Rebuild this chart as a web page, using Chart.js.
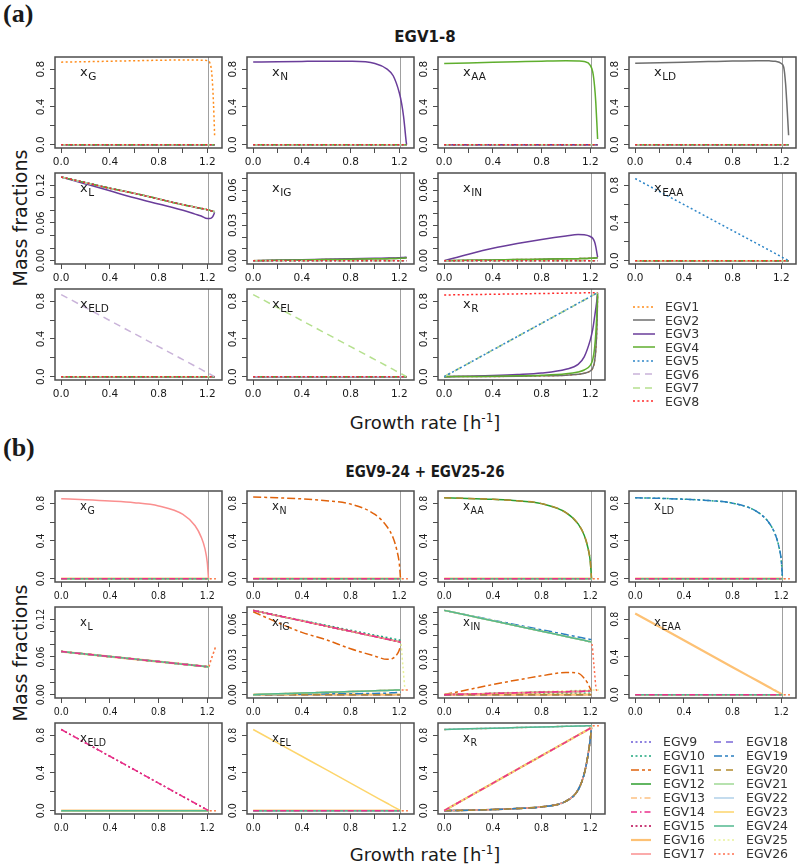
<!DOCTYPE html>
<html>
<head>
<meta charset="utf-8">
<title>EGV mass fractions</title>
<script src="https://cdn.jsdelivr.net/npm/chart.js@4.4.1/dist/chart.umd.min.js"></script>
<style>
  body { margin: 0; background: #fff; }
  #page { position: relative; width: 800px; height: 866px; overflow: hidden;
          font-family: "DejaVu Sans", sans-serif; color: #1a1a1a; }
  .abs { position: absolute; white-space: nowrap; }
  .tag { font-family: "Liberation Serif", "DejaVu Serif", serif; font-weight: bold; font-size: 26px; line-height: 28px; }
  .title { left: 225px; width: 400px; text-align: center; font-weight: bold; font-size: 15px; line-height: 20px; }
  .ylab { left: -80px; width: 200px; height: 24px; line-height: 24px; text-align: center; font-size: 19px; transform: rotate(-90deg); }
  .xlab { left: 225px; width: 400px; text-align: center; font-size: 18px; line-height: 24px; }
  .xlab sup { font-size: 12px; }
  .leg { font-size: 12.5px; line-height: 16px; color: #333; }
</style>
</head>
<body>
<div id="page">
  <div class="abs tag" style="left:3px;top:0px">(a)</div>
  <div class="abs title" style="top:27px">EGV1-8</div>
  <div class="abs ylab" style="top:206px">Mass fractions</div>
  <div class="abs xlab" style="top:406px">Growth rate [h<sup>-1</sup>]</div>

  <div class="abs tag" style="left:3px;top:434px">(b)</div>
  <div class="abs title" style="top:462px;font-family:'DejaVu Sans Condensed','Liberation Sans Narrow','DejaVu Sans',sans-serif">EGV9-24 + EGV25-26</div>
  <div class="abs ylab" style="top:641px">Mass fractions</div>
  <div class="abs xlab" style="top:838px">Growth rate [h<sup>-1</sup>]</div>
</div>
<script>
// growth-rate grids
const muA = [0, 0.2, 0.4, 0.6, 0.8, 1.0, 1.1, 1.15, 1.2, 1.22, 1.235, 1.245, 1.255, 1.26];
const muB = [0, 0.2, 0.4, 0.6, 0.8, 1.0, 1.1, 1.15, 1.18, 1.2, 1.21, 1.23, 1.25, 1.27];
const muMax = 1.21;

// axis ticks
const xLim = [0, 1.27];
const xTicks = [0, 0.2, 0.4, 0.6, 0.8, 1.0, 1.2];
const xTickLabels = [0, 0.4, 0.8, 1.2];
const yBigLim = [0, 0.893];
const yBigTicks = [0, 0.2, 0.4, 0.6, 0.8];
const yBigLabels = [0, 0.4, 0.8];
const yLLim = [0, 0.134];
const yLTicks = [0, 0.02, 0.04, 0.06, 0.08, 0.1, 0.12];
const yLLabels = [0, 0.06, 0.12];
const yILim = [0, 0.0717];
const yITicks = [0, 0.01, 0.02, 0.03, 0.04, 0.05, 0.06, 0.07];
const yILabels = [0, 0.03, 0.06];

const egvA = ['EGV1', 'EGV2', 'EGV3', 'EGV4', 'EGV5', 'EGV6', 'EGV7', 'EGV8'];
const egvB = ['EGV9', 'EGV10', 'EGV11', 'EGV12', 'EGV13', 'EGV14', 'EGV15', 'EGV16', 'EGV17',
              'EGV18', 'EGV19', 'EGV20', 'EGV21', 'EGV22', 'EGV23', 'EGV24', 'EGV25', 'EGV26'];
const names = ['G', 'N', 'AA', 'LD', 'L', 'IG', 'IN', 'EAA', 'ELD', 'EL', 'R'];

// ---- panel (a) values, on muA ----
const ZA = [0, 0, 0, 0, 0, 0, 0, 0, 0, 0, 0, 0, 0, 0];
const aG1 = [0.874, 0.879, 0.884, 0.889, 0.894, 0.897, 0.897, 0.895, 0.89, 0.87, 0.78, 0.6, 0.3, 0.1];
const aN3 = [0.875, 0.879, 0.882, 0.884, 0.883, 0.86, 0.8, 0.73, 0.55, 0.43, 0.3, 0.18, 0.05, 0.0];
const aAA4 = [0.86, 0.866, 0.872, 0.878, 0.884, 0.888, 0.886, 0.88, 0.84, 0.77, 0.62, 0.45, 0.2, 0.06];
const aLD2 = [0.862, 0.868, 0.874, 0.88, 0.886, 0.89, 0.888, 0.883, 0.86, 0.82, 0.65, 0.45, 0.22, 0.1];
const aL3 = [0.133, 0.122, 0.111, 0.1, 0.09, 0.08, 0.074, 0.071, 0.067, 0.067, 0.068, 0.07, 0.074, 0.077];
const aL = [0.133, 0.124, 0.115, 0.107, 0.098, 0.089, 0.085, 0.083, 0.081, 0.08, 0.079, 0.0785, 0.078, 0.0777];
const aIG3 = [0, 0.0004, 0.0008, 0.0012, 0.0016, 0.002, 0.0022, 0.0023, 0.0025, 0.0026, 0.0027, 0.0028, 0.0029, 0.003];
const aLow = [0, 0.0003, 0.0006, 0.0009, 0.0012, 0.0015, 0.0017, 0.0018, 0.002, 0.0021, 0.0022, 0.0023, 0.0024, 0.0025];
const aIN3 = [0, 0.0055, 0.0105, 0.0145, 0.018, 0.021, 0.0222, 0.022, 0.0205, 0.019, 0.016, 0.012, 0.006, 0.003];
const aE = [0.87, 0.732, 0.594, 0.456, 0.318, 0.18, 0.111, 0.076, 0.041, 0.028, 0.017, 0.01, 0.003, 0.0];
const aR8 = [0.865, 0.869, 0.873, 0.877, 0.881, 0.885, 0.887, 0.888, 0.889, 0.89, 0.89, 0.89, 0.89, 0.89];
const aRdiag = [0, 0.141, 0.283, 0.424, 0.565, 0.706, 0.777, 0.812, 0.848, 0.862, 0.872, 0.879, 0.886, 0.89];
const aR3 = [0, 0.005, 0.012, 0.022, 0.038, 0.078, 0.13, 0.21, 0.39, 0.5, 0.63, 0.72, 0.82, 0.89];
const aR4 = [0, 0.002, 0.004, 0.008, 0.014, 0.03, 0.05, 0.07, 0.12, 0.18, 0.3, 0.45, 0.7, 0.88];
const aR2 = [0, 0.001, 0.002, 0.004, 0.008, 0.015, 0.025, 0.035, 0.06, 0.09, 0.16, 0.28, 0.55, 0.86];

// ---- panel (b) values, on muB (EGV9-24 stop at 1.21) ----
const ZB = [0, 0, 0, 0, 0, 0, 0, 0, 0, 0, 0, null, null, null];
const ZB2 = [0, 0, 0, 0, 0, 0, 0, 0, 0, 0, 0, 0, 0, 0];
const bG17 = [0.846, 0.836, 0.823, 0.805, 0.77, 0.68, 0.56, 0.44, 0.32, 0.17, 0, null, null, null];
const bN11 = [0.865, 0.857, 0.845, 0.825, 0.79, 0.68, 0.55, 0.43, 0.3, 0.16, 0, null, null, null];
const bAA12 = [0.857, 0.85, 0.84, 0.825, 0.795, 0.7, 0.58, 0.46, 0.33, 0.18, 0, null, null, null];
const bLD19 = [0.857, 0.851, 0.842, 0.828, 0.8, 0.71, 0.59, 0.47, 0.34, 0.19, 0, null, null, null];
const bL = [0.0685, 0.0645, 0.0605, 0.0565, 0.0525, 0.0485, 0.0465, 0.0455, 0.0449, 0.0445, 0.0443, null, null, null];
const bL26 = [0.0685, 0.0645, 0.0605, 0.0565, 0.0525, 0.0485, 0.0465, 0.0455, 0.0449, 0.0445, 0.0443, 0.055, 0.066, 0.077];
const bIGtop = [0.0717, 0.0672, 0.0628, 0.0583, 0.0539, 0.0494, 0.0472, 0.0461, 0.0454, 0.045, 0.0448, null, null, null];
const bIG10 = [0.0717, 0.0674, 0.0632, 0.059, 0.0548, 0.0506, 0.0486, 0.0475, 0.0469, 0.0465, 0.0462, null, null, null];
const bIG11 = [0.0705, 0.0614, 0.053, 0.0467, 0.039, 0.0328, 0.03, 0.031, 0.034, 0.038, 0.042, null, null, null];
const bIGlow = [0, 0.0007, 0.0013, 0.002, 0.0026, 0.0033, 0.0036, 0.0038, 0.0039, 0.004, 0.004, null, null, null];
const bIG19 = [0, 0.0002, 0.0004, 0.0006, 0.0008, 0.001, 0.0013, 0.0016, 0.0018, 0.002, 0.002, null, null, null];
const bIG25 = [0.0717, 0.0672, 0.0628, 0.0583, 0.0539, 0.0494, 0.0472, 0.0461, 0.0454, 0.045, 0.0448, 0.024, 0.004, 0.004];
const bIG26 = [0, 0.0007, 0.0013, 0.002, 0.0026, 0.0033, 0.0036, 0.0038, 0.0039, 0.004, 0.004, 0.004, 0.004, 0.004];
const bINtop = [0.0717, 0.0673, 0.0628, 0.0584, 0.054, 0.0495, 0.0473, 0.0462, 0.0455, 0.0451, 0.0449, null, null, null];
const bIN19 = [0.0717, 0.0675, 0.0634, 0.0593, 0.0552, 0.0511, 0.049, 0.048, 0.0474, 0.047, 0.0468, null, null, null];
const bIN11 = [0, 0.0043, 0.0086, 0.0125, 0.016, 0.0189, 0.0183, 0.014, 0.0095, 0.005, 0.003, null, null, null];
const bINlow = [0, 0.0005, 0.001, 0.0015, 0.002, 0.0025, 0.0027, 0.0028, 0.0029, 0.003, 0.003, null, null, null];
const bIN10 = [0, 0.0002, 0.0003, 0.0005, 0.0007, 0.0009, 0.001, 0.0011, 0.0012, 0.0012, 0.0012, null, null, null];
const bIN26 = [0.0717, 0.0673, 0.0628, 0.0584, 0.054, 0.0495, 0.0473, 0.0462, 0.0455, 0.0451, 0.0449, 0.025, 0.004, 0.002];
const bE = [0.86, 0.718, 0.576, 0.434, 0.291, 0.149, 0.078, 0.043, 0.021, 0.007, 0, null, null, null];
const bRtop = [0.86, 0.867, 0.873, 0.88, 0.886, 0.893, 0.896, 0.898, 0.899, 0.9, 0.9, null, null, null];
const bR26 = [0.86, 0.867, 0.873, 0.88, 0.886, 0.893, 0.896, 0.898, 0.899, 0.9, 0.9, 0.9, 0.9, 0.9];
const bRdiag = [0, 0.146, 0.291, 0.437, 0.582, 0.727, 0.8, 0.836, 0.858, 0.873, 0.88, null, null, null];
const bRexp = [0, 0.004, 0.011, 0.022, 0.04, 0.1, 0.22, 0.39, 0.58, 0.76, 0.88, null, null, null];

// which curve goes where (anything not listed is the zero line)
const specA = [
  {1: aG1}, {3: aN3}, {4: aAA4}, {2: aLD2},
  {1: aL, 2: aL, 3: aL3, 4: aL, 5: aL, 6: aL, 7: aL, 8: aL},
  {1: aLow, 2: aLow, 3: aIG3, 4: aLow},
  {1: aLow, 2: aLow, 3: aIN3, 4: aLow},
  {5: aE}, {6: aE}, {7: aE},
  {1: aR2, 2: aR2, 3: aR3, 4: aR4, 5: aRdiag, 6: aRdiag, 7: aRdiag, 8: aR8}
];
const specB = [
  {17: bG17}, {11: bN11}, {12: bAA12, 20: bAA12}, {10: bLD19, 19: bLD19},
  {9: bL, 10: bL, 11: bL, 12: bL, 13: bL, 14: bL, 15: bL, 16: bL, 17: bL, 18: bL, 19: bL, 20: bL,
   21: bL, 22: bL, 23: bL, 24: bL, 25: bL26, 26: bL26},
  {10: bIG10, 11: bIG11, 12: bIGtop, 14: bIGtop, 15: bIGtop, 17: bIGtop, 21: bIGlow,
   22: bIGlow, 23: bIGlow, 24: bIGlow, 19: bIG19, 25: bIG25, 26: bIG26},
  {19: bIN19, 21: bINtop, 22: bINtop, 23: bINtop, 24: bINtop, 11: bIN11, 12: bINlow,
   14: bINlow, 15: bINlow, 17: bINlow, 10: bIN10, 25: bIG26, 26: bIN26},
  {16: bE}, {14: bE, 15: bE}, {23: bE},
  {22: bRtop, 24: bRtop, 25: bR26, 26: bR26, 14: bRdiag, 15: bRdiag, 16: bRdiag, 21: bRdiag, 23: bRdiag,
   9: bRexp, 10: bRexp, 11: bRexp, 12: bRexp, 13: bRexp, 17: bRexp, 18: bRexp, 19: bRexp, 20: bRexp}
];
const yKind = ['big', 'big', 'big', 'big', 'L', 'I', 'I', 'big', 'big', 'big', 'big'];

// ---- styles ----
const SOLID = [], DOT = [2, 2.5], DASH = [7, 5], DOTDASH = [6, 3, 1.5, 3], TWODASH = [8, 3, 3, 3];
const colA = ['#ff8c1a', '#6e6e6e', '#6a3d9a', '#5fae2e', '#2e86c8', '#c9b3d9', '#b5e08e', '#ff2a2a'];
const dashA = [DOT, SOLID, SOLID, SOLID, DOT, DASH, DASH, DOT];
const colB = ['#6b5bd6', '#1fa67e', '#e0630c', '#2e9e2e', '#fdc183', '#ec2f8c', '#b8004f', '#fdc174', '#fa8f8f',
              '#7b68d8', '#2a7fc0', '#b38a2e', '#9fd894', '#b0d0e8', '#fdd56b', '#52b98f', '#e9f29a', '#ff6f4f'];
const dashB = [DOT, DOT, TWODASH, SOLID, DOTDASH, DOTDASH, DOT, SOLID, SOLID,
               DASH, TWODASH, DASH, SOLID, SOLID, SOLID, SOLID, DOT, DOT];
const widthB = [1.5, 1.5, 1.5, 1.5, 1.5, 1.5, 1.5, 2.2, 1.5, 1.5, 1.5, 1.5, 1.5, 1.5, 1.5, 1.5, 1.5, 1.5];
// stacking, bottom first
const drawA = ['EGV1', 'EGV2', 'EGV3', 'EGV4', 'EGV6', 'EGV7', 'EGV5', 'EGV8'];
const drawB = ['EGV25', 'EGV26', 'EGV9', 'EGV10', 'EGV11', 'EGV12', 'EGV13', 'EGV15', 'EGV16', 'EGV17',
               'EGV18', 'EGV19', 'EGV20', 'EGV21', 'EGV22', 'EGV23', 'EGV24', 'EGV14'];

const colLeft = [55, 247, 438, 629];
const rowTopA = [57, 173, 289];
const rowTopB = [491, 607, 723];
const boxW = 167, boxH = 91;
const famA = '"DejaVu Sans", sans-serif';
const famB = '"DejaVu Sans Condensed", "Liberation Sans Narrow", "DejaVu Sans", sans-serif';

const page = document.getElementById('page');

function pts(mu, ys) {
  const out = [];
  ys.forEach((y, i) => { if (y !== null) out.push({x: mu[i], y: y}); });
  return out;
}

function expand(lim) {
  const d = (lim[1] - lim[0]) * 0.04;
  return [lim[0] - d, lim[1] + d];
}

// box round the plot region, rotated y labels, panel name
const frame = {
  id: 'frame',
  afterDatasetsDraw(chart, args, o) {
    const ctx = chart.ctx, a = chart.chartArea, ys = chart.scales.y;
    ctx.save();
    ctx.strokeStyle = '#4d4d4d';
    ctx.lineWidth = 1.5;
    ctx.strokeRect(a.left, a.top, a.right - a.left, a.bottom - a.top);
    ctx.fillStyle = '#1a1a1a';
    ctx.font = o.tickFont;
    ctx.textAlign = 'center';
    ctx.textBaseline = 'alphabetic';
    o.labels.forEach(v => {
      ctx.save();
      ctx.translate(a.left - 11, ys.getPixelForValue(v));
      ctx.rotate(-Math.PI / 2);
      ctx.fillText(v.toFixed(o.dec), 0, 0);
      ctx.restore();
    });
    ctx.textAlign = 'left';
    ctx.font = o.nameFont;
    const nx = a.left + 25, ny = a.top + 19;
    ctx.fillText('x', nx, ny);
    const w = ctx.measureText('x').width;
    ctx.font = o.subFont;
    ctx.fillText(o.sub, nx + w + 0.5, ny + 3.5);
    ctx.restore();
  }
};

function makePlot(left, top, sub, kind, datasets, fam) {
  const W = 35 + boxW + 6, H = 4 + boxH + 26;
  const c = document.createElement('canvas');
  c.width = W; c.height = H;
  c.style.cssText = 'position:absolute;left:' + (left - 35) + 'px;top:' + (top - 4) + 'px;width:' + W + 'px;height:' + H + 'px';
  page.appendChild(c);

  let ylim = yBigLim, yt = yBigTicks, ylab = yBigLabels, dec = 1;
  if (kind === 'L') { ylim = yLLim; yt = yLTicks; ylab = yLLabels; dec = 2; }
  if (kind === 'I') { ylim = yILim; yt = yITicks; ylab = yILabels; dec = 2; }
  const yl = expand(ylim), xl = expand(xLim);

  datasets.push({
    data: [{x: muMax, y: yl[0] - 1}, {x: muMax, y: yl[1] + 1}],
    borderColor: '#a0a0a0', borderWidth: 1, tension: 0, cubicInterpolationMode: 'default', order: 1000
  });

  new Chart(c, {
    type: 'line',
    data: {datasets: datasets},
    options: {
      responsive: false,
      animation: false,
      devicePixelRatio: 1,
      layout: {padding: {top: 4, right: 6, left: 0, bottom: 0}},
      elements: {point: {radius: 0}, line: {borderWidth: 1.5, cubicInterpolationMode: 'monotone'}},
      plugins: {
        legend: {display: false},
        tooltip: {enabled: false},
        frame: {labels: ylab, dec: dec, sub: sub, tickFont: '10.5px ' + fam,
                nameFont: '13px ' + fam, subFont: '10.5px ' + fam}
      },
      scales: {
        x: {
          type: 'linear', min: xl[0], max: xl[1],
          border: {display: false},
          grid: {drawOnChartArea: false, tickLength: 5, tickColor: '#4d4d4d', tickWidth: 1},
          afterBuildTicks: s => { s.ticks = xTicks.map(v => ({value: v})); },
          afterFit: s => { s.height = 26; },
          ticks: {autoSkip: false, maxRotation: 0, minRotation: 0, padding: 3, color: '#1a1a1a',
                  font: {family: fam, size: 10.5},
                  callback: v => xTickLabels.includes(v) ? v.toFixed(1) : ''}
        },
        y: {
          type: 'linear', min: yl[0], max: yl[1],
          border: {display: false},
          grid: {drawOnChartArea: false, tickLength: 5, tickColor: '#4d4d4d', tickWidth: 1},
          afterBuildTicks: s => { s.ticks = yt.map(v => ({value: v})); },
          afterFit: s => { s.width = 35; },
          ticks: {display: false}
        }
      }
    },
    plugins: [frame]
  });
}

// panel (a)
names.forEach((sub, p) => {
  const ds = egvA.map((lab, i) => ({
    label: lab,
    data: pts(muA, specA[p][i + 1] || ZA),
    borderColor: colA[i], borderDash: dashA[i], borderWidth: 1.5, order: -drawA.indexOf(lab)
  }));
  makePlot(colLeft[p % 4], rowTopA[Math.floor(p / 4)], sub, yKind[p], ds, famA);
});

// panel (b)
names.forEach((sub, p) => {
  const ds = egvB.map((lab, i) => {
    const n = i + 9;
    return {
      label: lab,
      data: pts(muB, specB[p][n] || (n >= 25 ? ZB2 : ZB)),
      borderColor: colB[i], borderDash: dashB[i], borderWidth: widthB[i], order: -drawB.indexOf(lab)
    };
  });
  makePlot(colLeft[p % 4], rowTopB[Math.floor(p / 4)], sub, yKind[p], ds, famB);
});

// legends
function legendItem(x, cy, label, color, dash, width, len) {
  const d = document.createElement('div');
  d.className = 'abs leg';
  d.style.left = x + 'px';
  d.style.top = (cy - 8) + 'px';
  d.innerHTML = '<svg width="' + len + '" height="10" style="vertical-align:middle;margin-right:' + (len === 22 ? 10 : 12) + 'px">' +
    '<line x1="0" y1="5" x2="' + len + '" y2="5" stroke="' + color + '" stroke-width="' + width + '" stroke-dasharray="' +
    dash.join(' ') + '"/></svg><span style="vertical-align:middle">' + label + '</span>';
  page.appendChild(d);
}
egvA.forEach((lab, i) => legendItem(633, 306 + 13.5 * i, lab, colA[i], dashA[i], 1.5, 22));
egvB.forEach((lab, i) => {
  const c = Math.floor(i / 9), r = i % 9;
  legendItem(c === 0 ? 631 : 714, 741 + 14 * r, lab, colB[i], dashB[i], widthB[i], 20);
});
</script>
</body>
</html>
